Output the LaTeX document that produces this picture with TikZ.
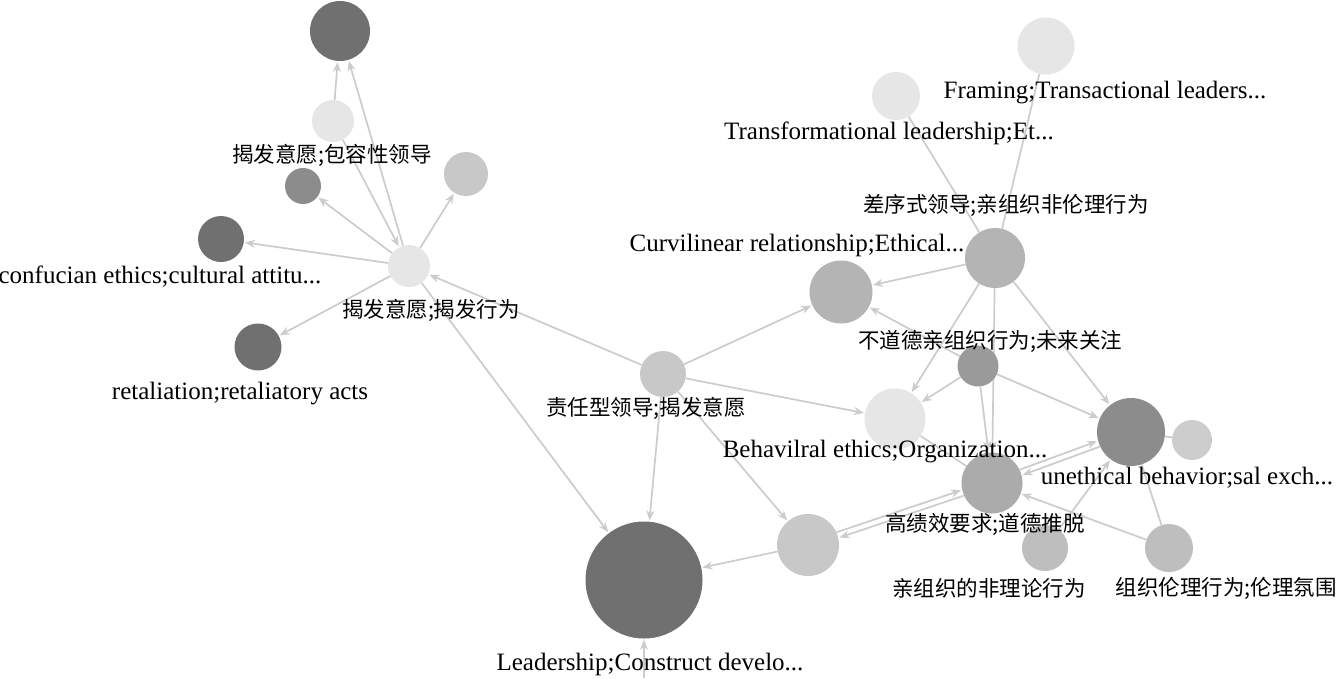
\documentclass[tikz,border=0pt]{standalone}
\usepackage{fontspec}
\setmainfont{Liberation Serif}
\newfontfamily\zhfam{Noto Sans CJK SC}
\newcommand\zhs{\zhfam\fontsize{21.5pt}{26pt}\selectfont}
\usetikzlibrary{arrows.meta,calc}
\definecolor{cdark}{HTML}{707070}
\definecolor{cmid}{HTML}{8C8C8C}
\definecolor{cmm}{HTML}{9A9A9A}
\definecolor{cgray}{HTML}{B4B4B4}
\definecolor{clg}{HTML}{C8C8C8}
\definecolor{cvl}{HTML}{E6E6E6}
\definecolor{cedge}{HTML}{CCCCCC}
\pgfdeclarelayer{back}
\pgfdeclarelayer{bg}
\pgfsetlayers{back,bg,main}
\tikzset{
  nd/.style={circle,inner sep=0pt,draw=none},
  lbl/.style={inner sep=0pt,font=\fontsize{25pt}{30pt}\selectfont,text=black},
  edge/.style={draw=cedge,line width=1.7pt,-{Stealth[length=10pt,width=8pt]},shorten >=1pt},
  plain/.style={draw=cedge,line width=1.7pt}
}
\begin{document}
\begin{tikzpicture}[x=1pt,y=-1pt]
\useasboundingbox (0,0) rectangle (1337,678);
\begin{pgfonlayer}{back}
\fill[white] (0,0) rectangle (1337,678);
\end{pgfonlayer}
% nodes
\node[nd,minimum size=60pt,fill=cdark] (A) at (340,31) {};
\node[nd,minimum size=42pt,fill=cvl] (B) at (333,121) {};
\node[nd,minimum size=36pt,fill=cmid] (C) at (303,186) {};
\node[nd,minimum size=44pt,fill=clg] (D) at (466,174) {};
\node[nd,minimum size=46pt,fill=cdark] (E) at (221,239) {};
\node[nd,minimum size=42pt,fill=cvl] (F) at (409,266) {};
\node[nd,minimum size=47pt,fill=cdark] (G) at (258,347) {};
\node[nd,minimum size=46pt,fill=clg] (H) at (663,374) {};
\node[nd,minimum size=57pt,fill=cvl] (I) at (1046,46) {};
\node[nd,minimum size=48pt,fill=cvl] (J) at (896,96) {};
\node[nd,minimum size=60pt,fill=cgray] (K) at (995,258) {};
\node[nd,minimum size=63pt,fill=cgray] (L) at (841,292) {};
\node[nd,minimum size=41pt,fill=cmm] (M) at (978,366) {};
\node[nd,minimum size=61pt,fill=cvl] (N) at (895,419) {};
\node[nd,minimum size=68pt,fill=cmid] (O) at (1131,432) {};
\node[nd,minimum size=40pt,fill=clg!90] (P) at (1192,440) {};
\node[nd,minimum size=61pt,fill=cgray!95!black] (Q) at (992,483) {};
\node[nd,minimum size=62pt,fill=clg] (R) at (808,545) {};
\node[nd,minimum size=117pt,fill=cdark] (S) at (644,580) {};
\node[nd,minimum size=46pt,fill=clg!95!black] (T) at (1045,548) {};
\node[nd,minimum size=48pt,fill=clg!95!black] (U) at (1169,548) {};
\coordinate (Sb) at (644,678);
% labels
\node[lbl] (Bl) at (332,155) {\zhs 揭发意愿;包容性领导};
\node[lbl] (El) at (160,277) {confucian ethics;cultural attitu...};
\node[lbl] (Fl) at (431,310) {\zhs 揭发意愿;揭发行为};
\node[lbl] (Gl) at (240,394) {retaliation;retaliatory acts};
\node[lbl] (Hl) at (646,408) {\zhs 责任型领导;揭发意愿};
\node[lbl] (Il) at (1105,93) {Framing;Transactional leaders...};
\node[lbl] (Jl) at (889,133) {Transformational leadership;Et...};
\node[lbl] (Kl) at (1006,205) {\zhs 差序式领导;亲组织非伦理行为};
\node[lbl] (Ll) at (797,245) {Curvilinear relationship;Ethical...};
\node[lbl] (Ml) at (990,341) {\zhs 不道德亲组织行为;未来关注};
\node[lbl] (Nl) at (885,452) {Behavilral ethics;Organization...};
\node[lbl] (Ol) at (1187,478) {unethical behavior;sal exch...};
\node[lbl] (Ql) at (985,524) {\zhs 高绩效要求;道德推脱};
\node[lbl] (Sl) at (650,664) {Leadership;Construct develo...};
\node[lbl] (Tl) at (989,588) {\zhs 亲组织的非理论行为};
\node[lbl] (Ul) at (1226,588) {\zhs 组织伦理行为;伦理氛围};
% edges
\begin{pgfonlayer}{bg}
\draw[edge] (B) -- (A);
\draw[edge] (F) -- (A);
\draw[edge] (B) -- (F);
\draw[edge] (F) -- (C);
\draw[edge] (F) -- (D);
\draw[edge] (F) -- (E);
\draw[edge] (F) -- (G);
\draw[edge] (H) -- (F);
\draw[edge] (F) -- (S);
\draw[edge] (H) -- (L);
\draw[edge] (H) -- (N);
\draw[edge] (H) -- (S);
\draw[edge] (H) -- (R);
\draw[edge] (R) -- (S);
\draw[edge,transform canvas={xshift=-1pt,yshift=2.8pt}] (R) -- (Q);
\draw[edge,transform canvas={xshift=1pt,yshift=-2.8pt}] (Q) -- (R);
\draw[edge,transform canvas={xshift=-1pt,yshift=2.8pt}] (Q) -- (O);
\draw[edge,transform canvas={xshift=1pt,yshift=-2.8pt}] (O) -- (Q);
\draw[edge] (K) -- (L);
\draw[edge] (K) -- (N);
\draw[edge] (K) -- (Q);
\draw[edge] (K) -- (O);
\draw[plain] (J) -- (K);
\draw[plain] (I) -- (K);
\draw[edge] (M) -- (L);
\draw[edge] (M) -- (N);
\draw[edge] (M) -- (Q);
\draw[edge] (M) -- (O);
\draw[plain] (N) -- (Q);
\draw[edge] (T) -- (O);
\draw[edge] (U) -- (Q);
\draw[plain] (O) -- (U);
\draw[plain] (O) -- (P);
\draw[edge] (Sb) -- (S);
\end{pgfonlayer}
\end{tikzpicture}
\end{document}
